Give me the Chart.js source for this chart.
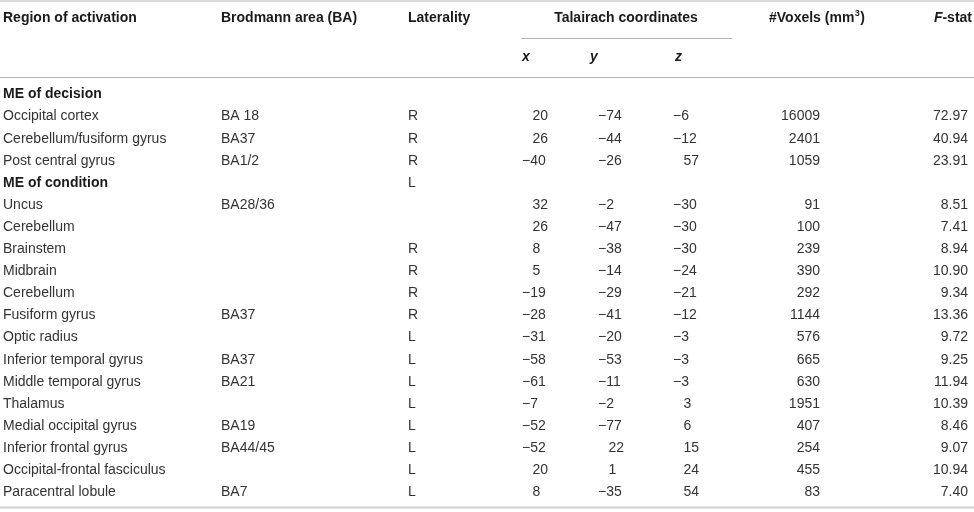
<!DOCTYPE html>
<html>
<head>
<meta charset="utf-8">
<script src="https://cdn.jsdelivr.net/npm/chart.js@4"></script>
<style>
  html, body { margin: 0; padding: 0; background: #fff; }
  #wrap { width: 974px; height: 512px; }
</style>
</head>
<body>
<div id="wrap"><canvas id="chart-table" width="974" height="512"></canvas></div>
<script>
// ── table content ──────────────────────────────────────
const rowLabels = [
  'ME of decision', 'Occipital cortex', 'Cerebellum/fusiform gyrus', 'Post central gyrus',
  'ME of condition', 'Uncus', 'Cerebellum', 'Brainstem', 'Midbrain', 'Cerebellum',
  'Fusiform gyrus', 'Optic radius', 'Inferior temporal gyrus', 'Middle temporal gyrus',
  'Thalamus', 'Medial occipital gyrus', 'Inferior frontal gyrus',
  'Occipital-frontal fasciculus', 'Paracentral lobule'
];
const sectionRows = [0, 4];
const brodmann = ['', 'BA 18', 'BA37', 'BA1/2', '', 'BA28/36', '', '', '', '', 'BA37', '',
  'BA37', 'BA21', '', 'BA19', 'BA44/45', '', 'BA7'];
const laterality = ['', 'R', 'R', 'R', 'L', '', '', 'R', 'R', 'R', 'R', 'L', 'L', 'L', 'L',
  'L', 'L', 'L', 'L'];
const talX = [null, 20, 26, -40, null, 32, 26, 8, 5, -19, -28, -31, -58, -61, -7, -52, -52, 20, 8];
const talY = [null, -74, -44, -26, null, -2, -47, -38, -14, -29, -41, -20, -53, -11, -2, -77, 22, 1, -35];
const talZ = [null, -6, -12, 57, null, -30, -30, -30, -24, -21, -12, -3, -3, -3, 3, 6, 15, 24, 54];
const voxels = [null, 16009, 2401, 1059, null, 91, 100, 239, 390, 292, 1144, 576, 665, 630, 1951,
  407, 254, 455, 83];
const fStat = [null, 72.97, 40.94, 23.91, null, 8.51, 7.41, 8.94, 10.90, 9.34, 13.36, 9.72, 9.25,
  11.94, 10.39, 8.46, 9.07, 10.94, 7.40];

// ── layout (x in px-like units, y in row units) ─────────
const ROW_STEP = 22.1, ROW0 = 94.5, H = 512;
const yAt = px => (px - ROW0) / ROW_STEP;   // convert a layout height to row units
const FONT = '"Liberation Sans", Arial, sans-serif';
const SIGN_SLOT = 10.5;
const TEXT = '#333', HEAD = '#1a1a1a', RULE = '#b4b4b4';

const fmtNum = v => (v < 0 ? '\u2212' + Math.abs(v) : String(v));

const columns = [
  { key: 'region', x: 3, align: 'left', get: i => rowLabels[i] },
  { key: 'ba', x: 221, align: 'left', get: i => brodmann[i] },
  { key: 'lat', x: 408, align: 'left', get: i => laterality[i] },
  { key: 'x', x: 522, align: 'sign', values: talX },
  { key: 'y', x: 598, align: 'sign', values: talY },
  { key: 'z', x: 673, align: 'sign', values: talZ },
  { key: 'vox', x: 820, align: 'right', get: i => voxels[i] == null ? '' : String(voxels[i]) },
  { key: 'f', x: 968, align: 'right', get: i => fStat[i] == null ? '' : fStat[i].toFixed(2) }
];

const headers = [
  { text: 'Region of activation', x: 3, row: yAt(18.5), align: 'left' },
  { text: 'Brodmann area (BA)', x: 221, row: yAt(18.5), align: 'left' },
  { text: 'Laterality', x: 408, row: yAt(18.5), align: 'left' },
  { text: 'Talairach coordinates', x: 626, row: yAt(18.5), align: 'center' },
  { text: '#Voxels (mm', sup: '3', after: ')', x: 769, row: yAt(18.5), align: 'left' },
  { text: '-stat', italicLead: 'F', x: 972, row: yAt(18.5), align: 'right' },
  { text: 'x', x: 522, row: yAt(57.5), align: 'left', italic: true },
  { text: 'y', x: 590, row: yAt(57.5), align: 'left', italic: true },
  { text: 'z', x: 675, row: yAt(57.5), align: 'left', italic: true }
];

const rules = [
  { x0: 0, x1: 974, row: yAt(1), w: 1.2 },
  { x0: 521, x1: 732, row: yAt(38.5), w: 1 },
  { x0: 0, x1: 974, row: yAt(77.5), w: 1 },
  { x0: 0, x1: 974, row: yAt(507.5), w: 2, color: '#d0d0d0' }
];

// ── plugin: draws text of each cell at its point ────────
const tablePlugin = {
  id: 'tableText',
  afterDatasetsDraw(chart) {
    const { ctx, scales: { x, y } } = chart;
    ctx.save();
    rules.forEach(r => {
      ctx.strokeStyle = r.color || RULE;
      ctx.lineWidth = r.w;
      const py = y.getPixelForValue(r.row);
      ctx.beginPath();
      ctx.moveTo(x.getPixelForValue(r.x0), py);
      ctx.lineTo(x.getPixelForValue(r.x1), py);
      ctx.stroke();
    });

    ctx.textBaseline = 'middle';
    ctx.fillStyle = HEAD;
    headers.forEach(h => {
      const px = x.getPixelForValue(h.x), py = y.getPixelForValue(h.row);
      if (h.sup) {
        ctx.font = 'bold 14px ' + FONT;
        ctx.textAlign = 'left';
        ctx.fillText(h.text, px, py);
        let w = ctx.measureText(h.text).width;
        ctx.font = 'bold 9px ' + FONT;
        ctx.fillText(h.sup, px + w + 0.5, py - 5);
        w += ctx.measureText(h.sup).width + 1;
        ctx.font = 'bold 14px ' + FONT;
        ctx.fillText(h.after, px + w, py);
      } else if (h.italicLead) {
        ctx.font = 'bold 14px ' + FONT;
        const w2 = ctx.measureText(h.text).width;
        ctx.textAlign = 'right';
        ctx.fillText(h.text, px, py);
        ctx.font = 'italic bold 14px ' + FONT;
        ctx.fillText(h.italicLead, px - w2, py);
      } else {
        ctx.font = (h.italic ? 'italic ' : '') + 'bold 14px ' + FONT;
        ctx.textAlign = h.align;
        ctx.fillText(h.text, px, py);
      }
    });

    chart.data.datasets.forEach((ds, di) => {
      const col = columns[di];
      chart.getDatasetMeta(di).data.forEach((pt, i) => {
        let txt, px = pt.x;
        if (col.values) {
          const v = col.values[i];
          if (v == null) return;
          txt = fmtNum(v);
          if (v >= 0) px += SIGN_SLOT;
          ctx.textAlign = 'left';
        } else {
          txt = col.get(i);
          ctx.textAlign = col.align;
        }
        if (!txt) return;
        const isSection = di === 0 && sectionRows.includes(i);
        ctx.font = (isSection ? 'bold ' : '') + '14px ' + FONT;
        ctx.fillStyle = isSection ? HEAD : TEXT;
        ctx.fillText(txt, px, pt.y);
      });
    });
    ctx.restore();
  }
};

new Chart(document.getElementById('chart-table'), {
  type: 'scatter',
  data: {
    datasets: columns.map(col => ({
      label: col.key,
      data: rowLabels.map((_, i) => ({ x: col.x, y: i })),
      pointRadius: 0,
      pointHoverRadius: 0
    }))
  },
  options: {
    responsive: false,
    animation: false,
    events: [],
    layout: { padding: 0 },
    scales: {
      x: { type: 'linear', display: false, min: 0, max: 974 },
      y: { type: 'linear', display: false, reverse: true, min: yAt(0), max: yAt(H) }
    },
    plugins: {
      legend: { display: false },
      tooltip: { enabled: false }
    }
  },
  plugins: [tablePlugin]
});
</script>
</body>
</html>
